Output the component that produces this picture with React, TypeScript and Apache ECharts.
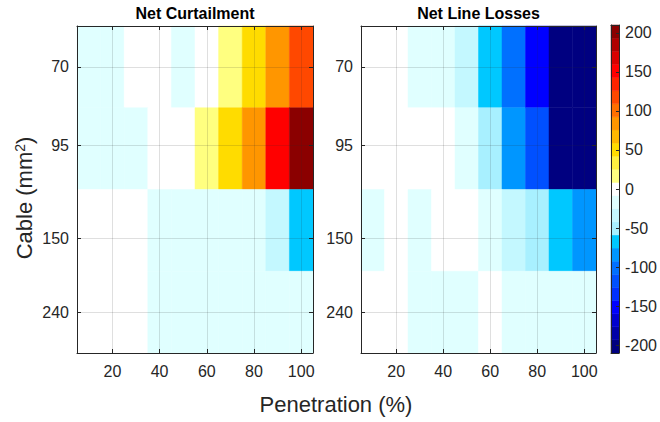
import React, { useEffect, useRef } from 'react';
import * as echarts from 'echarts';

// ---- data ----
const penetration = [10, 20, 30, 40, 50, 60, 70, 80, 90, 100];
const penetrationStep = 10;
const penetrationTicks = [20, 40, 60, 80, 100];
const cableLabels = ['70', '95', '150', '240'];
const cableTickPos = [0.5, 1.46, 2.6, 3.5];
const colorbarTicks = [-200, -150, -100, -50, 0, 50, 100, 150, 200];

// rows: cable 70, 95, 150, 240 ; columns: penetration 10..100
const curtailment = [
  [-14, -12, 0, 2, -13, 3, 18, 50, 84, 118],
  [-12, -11, -14, 1, 0, 17, 48, 83, 150, 205],
  [0, 1, 0, -13, -14, -12, -11, -15, -34, -68],
  [0, 0, 0, -11, -12, -13, -12, -11, -14, -12],
];
const lineLosses = [
  [0, 1, -13, -14, -30, -68, -100, -150, -205, -200],
  [0, 0, 2, 0, -14, -45, -84, -118, -200, -205],
  [-12, 0, -13, 1, 0, -14, -33, -48, -67, -84],
  [0, 0, -12, -13, -14, 0, -11, -13, -12, -14],
];

const colorMin = -210;
const colorMax = 210;
const bandColors = [
  '#000080', '#0000A8', '#0000D0', '#0000FF', '#0030FF', '#0050FF', '#0070FF', '#0096FF',
  '#00C8FF', '#A8F0FF', '#C4F8FF', '#E0FFFF', '#FFFFFF', '#FFFF80', '#FFF040', '#FFDC00',
  '#FFB800', '#FF9600', '#FF7000', '#FF4800', '#FF2400', '#FF0000', '#D80000', '#B00000',
  '#8B0000',
];

// ---- derived ----
const bandStep = (colorMax - colorMin) / bandColors.length;
const bandEdges = bandColors.map((_, i) => colorMin + i * bandStep).concat([colorMax]);

const toCells = (m: number[][]) => {
  const out: number[][] = [];
  m.forEach((row, r) => row.forEach((v, c) => out.push([penetration[c], r, v])));
  return out;
};

const FONT = 'Liberation Sans, Arial, Helvetica, sans-serif';
const AX = '#262626';
const GRIDC = 'rgba(38,38,38,0.15)';

const renderCell = (params: any, api: any) => {
  const x = api.value(0) as number;
  const r = api.value(1) as number;
  const h = penetrationStep / 2;
  const a = api.coord([x - h, r]);
  const b = api.coord([x + h, r + 1]);
  const color = api.visual('color');
  return {
    type: 'rect',
    shape: {
      x: Math.min(a[0], b[0]),
      y: Math.min(a[1], b[1]),
      width: Math.abs(b[0] - a[0]),
      height: Math.abs(b[1] - a[1]),
    },
    style: { fill: color, stroke: color, lineWidth: 0.5 },
  };
};

const renderBand = (params: any, api: any) => {
  const lo = api.value(0) as number;
  const hi = api.value(1) as number;
  const a = api.coord([0, lo]);
  const b = api.coord([1, hi]);
  const color = api.visual('color');
  return {
    type: 'rect',
    shape: {
      x: Math.min(a[0], b[0]),
      y: Math.min(a[1], b[1]),
      width: Math.abs(b[0] - a[0]),
      height: Math.abs(b[1] - a[1]),
    },
    style: { fill: color, stroke: color, lineWidth: 0.5 },
  };
};

const cableFormatter = (v: number) => {
  let best = 0;
  cableTickPos.forEach((p, i) => {
    if (Math.abs(p - v) < Math.abs(cableTickPos[best] - v)) best = i;
  });
  return cableLabels[best];
};

const labelStyle = { fontFamily: FONT, fontSize: 16, color: AX };
const lineStyle = { color: AX, width: 1 };

const plotXAxes = (gridIndex: number) => [
  {
    type: 'value', gridIndex, position: 'bottom', min: 5, max: 105, z: 10,
    axisLine: { show: true, onZero: false, lineStyle },
    axisTick: { show: true, inside: true, length: 4, customValues: penetrationTicks, lineStyle },
    axisLabel: { show: true, customValues: penetrationTicks, margin: 10, ...labelStyle },
    splitLine: { show: true, lineStyle: { color: GRIDC, width: 1 } },
  },
  {
    type: 'value', gridIndex, position: 'top', min: 5, max: 105, z: 10,
    axisLine: { show: true, onZero: false, lineStyle },
    axisTick: { show: true, inside: true, length: 4, customValues: penetrationTicks, lineStyle },
    axisLabel: { show: false },
    splitLine: { show: false },
  },
];

const plotYAxes = (gridIndex: number) => [
  {
    type: 'value', gridIndex, position: 'left', min: 0, max: 4, inverse: true, z: 10,
    axisLine: { show: true, onZero: false, lineStyle },
    axisTick: { show: true, inside: true, length: 4, customValues: cableTickPos, lineStyle },
    axisLabel: { show: true, customValues: cableTickPos, formatter: cableFormatter, margin: 8, ...labelStyle },
    splitLine: { show: true, lineStyle: { color: GRIDC, width: 1 } },
  },
  {
    type: 'value', gridIndex, position: 'right', min: 0, max: 4, inverse: true, z: 10,
    axisLine: { show: true, onZero: false, lineStyle },
    axisTick: { show: true, inside: true, length: 4, customValues: cableTickPos, lineStyle },
    axisLabel: { show: false },
    splitLine: { show: false },
  },
];

const option: any = {
  animation: false,
  backgroundColor: '#ffffff',
  grid: [
    { left: 77, top: 26, width: 236, height: 327 },
    { left: 361, top: 26, width: 235, height: 327 },
    { left: 611, top: 25, width: 11, height: 328 },
  ],
  xAxis: [
    ...plotXAxes(0),
    ...plotXAxes(1),
    {
      type: 'value', gridIndex: 2, position: 'bottom', min: 0, max: 1, z: 10,
      axisLine: { show: true, onZero: false, lineStyle },
      axisTick: { show: false }, axisLabel: { show: false }, splitLine: { show: false },
    },
    {
      type: 'value', gridIndex: 2, position: 'top', min: 0, max: 1, z: 10,
      axisLine: { show: true, onZero: false, lineStyle },
      axisTick: { show: false }, axisLabel: { show: false }, splitLine: { show: false },
    },
  ],
  yAxis: [
    ...plotYAxes(0),
    ...plotYAxes(1),
    {
      type: 'value', gridIndex: 2, position: 'left', min: colorMin, max: colorMax, z: 10,
      axisLine: { show: true, onZero: false, lineStyle },
      axisTick: { show: false }, axisLabel: { show: false }, splitLine: { show: false },
    },
    {
      type: 'value', gridIndex: 2, position: 'right', min: colorMin, max: colorMax, z: 10,
      axisLine: { show: true, onZero: false, lineStyle },
      axisTick: { show: true, inside: true, length: 3, customValues: colorbarTicks, lineStyle },
      axisLabel: { show: true, customValues: colorbarTicks, margin: 6, ...labelStyle },
      splitLine: { show: false },
    },
  ],
  visualMap: {
    type: 'piecewise',
    show: false,
    dimension: 2,
    seriesIndex: [0, 1, 2],
    pieces: bandColors.map((c, i) =>
      i === bandColors.length - 1
        ? { gte: bandEdges[i], lte: bandEdges[i + 1], color: c }
        : { gte: bandEdges[i], lt: bandEdges[i + 1], color: c }
    ),
  },
  series: [
    {
      type: 'custom', name: 'Net Curtailment', coordinateSystem: 'cartesian2d',
      xAxisIndex: 0, yAxisIndex: 0, data: toCells(curtailment), renderItem: renderCell, silent: true,
    },
    {
      type: 'custom', name: 'Net Line Losses', coordinateSystem: 'cartesian2d',
      xAxisIndex: 2, yAxisIndex: 2, data: toCells(lineLosses), renderItem: renderCell, silent: true,
    },
    {
      type: 'custom', name: 'colorbar', coordinateSystem: 'cartesian2d',
      xAxisIndex: 4, yAxisIndex: 4,
      data: bandColors.map((_, i) => [bandEdges[i], bandEdges[i + 1], (bandEdges[i] + bandEdges[i + 1]) / 2]),
      renderItem: renderBand, silent: true,
    },
  ],
  graphic: [
    {
      type: 'text', x: 195, y: 13,
      style: { text: 'Net Curtailment', font: `bold 16px ${FONT}`, fill: '#000', textAlign: 'center', textVerticalAlign: 'middle' },
    },
    {
      type: 'text', x: 478.5, y: 13,
      style: { text: 'Net Line Losses', font: `bold 16px ${FONT}`, fill: '#000', textAlign: 'center', textVerticalAlign: 'middle' },
    },
    {
      type: 'text', x: 336, y: 404,
      style: { text: 'Penetration (%)', font: `22px ${FONT}`, fill: AX, textAlign: 'center', textVerticalAlign: 'middle' },
    },
    {
      type: 'text', x: 24, y: 198, rotation: Math.PI / 2,
      style: {
        text: '{a|Cable (mm}{b|2}{a|)}',
        rich: {
          a: { fontSize: 22, fontFamily: FONT, fill: AX },
          b: { fontSize: 14, fontFamily: FONT, fill: AX, verticalAlign: 'top' },
        },
        textAlign: 'center', textVerticalAlign: 'middle',
      },
    },
  ],
};

export default function App() {
  const ref = useRef<HTMLDivElement>(null);
  useEffect(() => {
    const chart = echarts.init(ref.current as HTMLDivElement, null, { renderer: 'svg' });
    chart.setOption(option);
    return () => chart.dispose();
  }, []);
  return (
    <div
      ref={ref}
      style={{ position: 'fixed', left: 0, top: 0, width: 660, height: 422, background: '#fff' }}
    />
  );
}
